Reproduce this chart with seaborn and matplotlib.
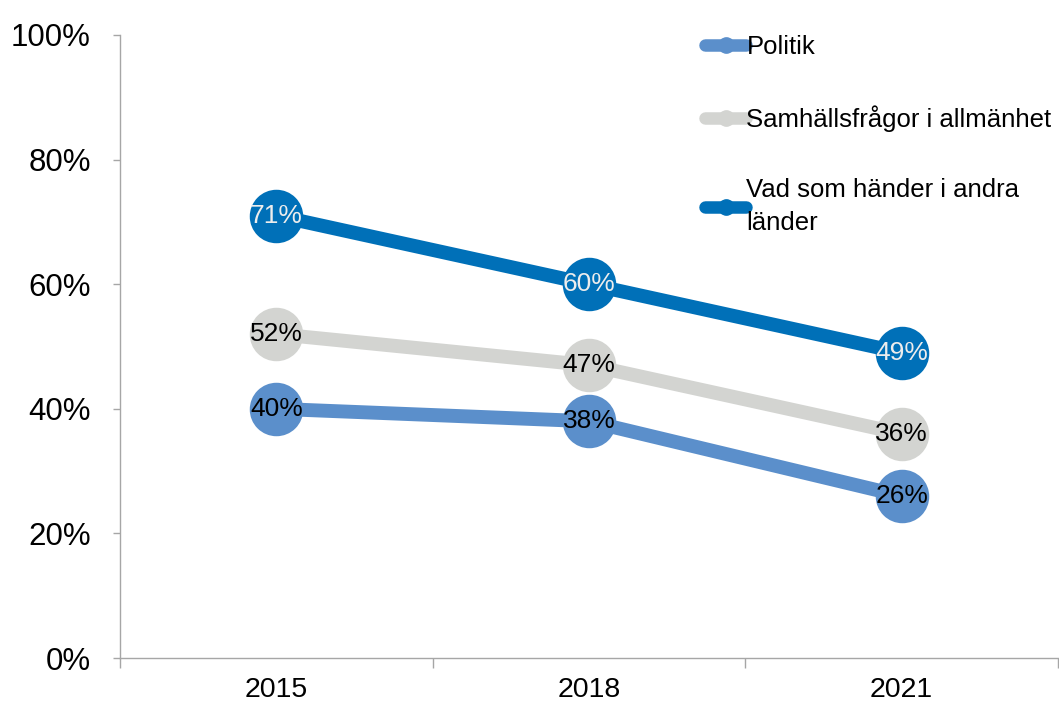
import matplotlib
matplotlib.use("Agg")
import matplotlib.pyplot as plt
import seaborn as sns
import pandas as pd
from matplotlib.lines import Line2D
from matplotlib.ticker import FixedLocator, FuncFormatter

years = ["2015", "2018", "2021"]
series_names = ["Politik", "Samhällsfrågor i allmänhet", "Vad som händer i andra\nländer"]
politik = [40, 38, 26]
samhalle = [52, 47, 36]
utland = [71, 60, 49]
values = [politik, samhalle, utland]
colors = ["#5B8FCB", "#D3D4D1", "#0070B8"]
label_colors = ["black", "black", "#EDEDED"]

sns.set_theme(style="white")
plt.rcParams["font.family"] = ["Liberation Sans", "DejaVu Sans"]
plt.rcParams["text.color"] = "black"

rows = []
for name, vals in zip(series_names, values):
    for y, v in zip(years, vals):
        rows.append({"year": y, "value": v, "series": name})
df = pd.DataFrame(rows)

fig = plt.figure(figsize=(10.59, 7.04), dpi=100)
ax = fig.add_axes([120 / 1059, 46 / 704, 938 / 1059, 623 / 704])

draw_order = [2, 1, 0]
for i in draw_order:
    sub = df[df["series"] == series_names[i]]
    sns.pointplot(data=sub, x="year", y="value", order=years, color=colors[i],
                  markers="o", markersize=31, linewidth=10, errorbar=None, ax=ax,
                  zorder=3 + (2 - i))

for i in draw_order:
    for xi, v in enumerate(values[i]):
        ax.text(xi, v, f"{v}%", ha="center", va="center", fontsize=19,
                color=label_colors[i], zorder=20)

ax.set_xlim(-0.5, 2.5)
ax.set_ylim(0, 100)
ax.set_xlabel("")
ax.set_ylabel("")

ax.set_yticks([0, 20, 40, 60, 80, 100])
ax.yaxis.set_major_formatter(FuncFormatter(lambda v, p: f"{int(v)}%"))
ax.tick_params(axis="y", labelsize=22.5, length=5, width=1, color="#A6A6A6",
               labelcolor="black", direction="out", pad=16, left=True)

ax.set_xticks([0, 1, 2])
ax.set_xticklabels(years)
ax.tick_params(axis="x", which="major", labelsize=20.5, length=0, pad=14,
               labelcolor="black")
ax.xaxis.set_minor_locator(FixedLocator([-0.5, 0.5, 1.5, 2.5]))
ax.tick_params(axis="x", which="minor", length=7, width=1, color="#A6A6A6",
               direction="out", bottom=True)

for s in ["top", "right"]:
    ax.spines[s].set_visible(False)
for s in ["left", "bottom"]:
    ax.spines[s].set_color("#A6A6A6")
    ax.spines[s].set_linewidth(1)

handles = [Line2D([0], [0], color=c, lw=9, marker="o", markersize=11,
                  solid_capstyle="round") for c in colors]
leg = ax.legend(handles, series_names, loc="upper left",
                bbox_to_anchor=(575 / 938, 1.017), frameon=False, fontsize=18.5,
                handlelength=1.6, handletextpad=0.0, labelspacing=1.8,
                borderaxespad=0)
for t in leg.get_texts():
    t.set_linespacing(1.5)

fig.savefig("out.png", dpi=100)
